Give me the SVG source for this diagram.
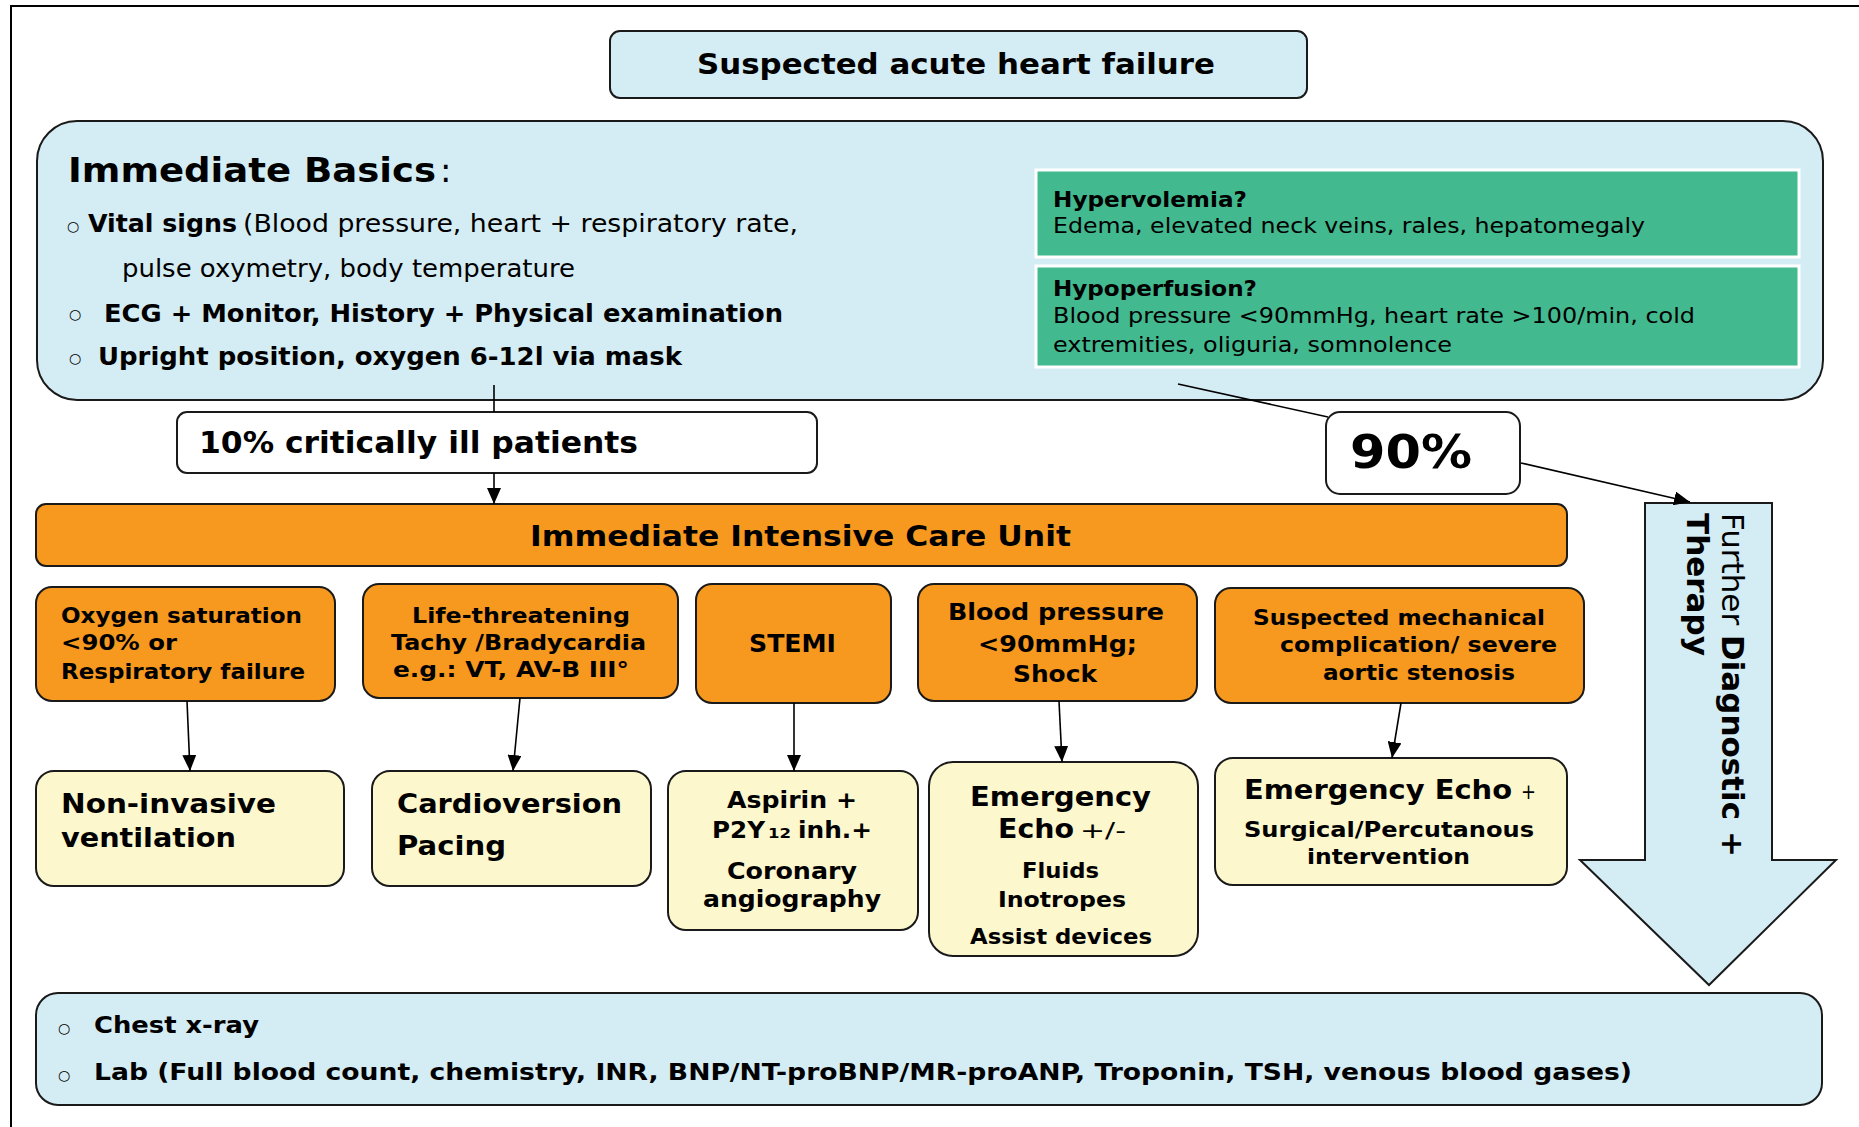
<svg xmlns="http://www.w3.org/2000/svg" width="1859" height="1127" viewBox="0 0 1859 1127">
<defs>
<style>
text{font-family:"DejaVu Sans","Liberation Sans",sans-serif;fill:#000}
.b{font-weight:bold}
.blue{fill:#d4ecf3;stroke:#1a1a1a;stroke-width:2}
.org{fill:#f7981f;stroke:#1a1a1a;stroke-width:2}
.yel{fill:#fcf7cd;stroke:#1a1a1a;stroke-width:2}
.wht{fill:#ffffff;stroke:#1a1a1a;stroke-width:2}
.grn{fill:#43b98f;stroke:#ffffff;stroke-width:3}
.ln{stroke:#000;stroke-width:1.6;fill:none}
.bul{font-size:14px}
</style>
<marker id="ah" markerUnits="userSpaceOnUse" markerWidth="16" markerHeight="14" refX="16" refY="7" orient="auto">
<path d="M0,0 L16,7 L0,14 z" fill="#000"/>
</marker>
</defs>
<rect width="1859" height="1127" fill="#ffffff"/>
<path d="M11,1127 L11,6 L1859,6" fill="none" stroke="#000" stroke-width="2"/>

<g id="title">
<rect class="blue" x="610" y="31" width="697" height="67" rx="10"/>
<text class="b" x="697" y="74" font-size="29" textLength="518" lengthAdjust="spacingAndGlyphs">Suspected acute heart failure</text>
</g>

<g id="basics">
<rect class="blue" x="37" y="121" width="1786" height="279" rx="40"/>
<text class="b" x="68" y="182" font-size="34" textLength="368" lengthAdjust="spacingAndGlyphs">Immediate Basics</text>
<text x="440" y="182" font-size="34">:</text>
<text class="bul" x="67" y="231">○</text>
<text class="b" x="88" y="232" font-size="24" textLength="149" lengthAdjust="spacingAndGlyphs">Vital signs</text>
<text x="243" y="232" font-size="24" textLength="555" lengthAdjust="spacingAndGlyphs">(Blood  pressure, heart + respiratory rate,</text>
<text x="122" y="277" font-size="24" textLength="453" lengthAdjust="spacingAndGlyphs">pulse oxymetry, body temperature</text>
<text class="bul" x="69" y="319">○</text>
<text class="b" x="104" y="322" font-size="24" textLength="679" lengthAdjust="spacingAndGlyphs">ECG + Monitor, History + Physical examination</text>
<text class="bul" x="69" y="363">○</text>
<text class="b" x="98" y="365" font-size="24" textLength="584" lengthAdjust="spacingAndGlyphs">Upright position, oxygen 6-12l via mask</text>
</g>

<g id="hypervolemia">
<rect class="grn" x="1036" y="170" width="763" height="87"/>
<text class="b" x="1053" y="207" font-size="21" textLength="194" lengthAdjust="spacingAndGlyphs">Hypervolemia?</text>
<text x="1053" y="233" font-size="21" textLength="592" lengthAdjust="spacingAndGlyphs">Edema, elevated neck veins, rales, hepatomegaly</text>
</g>

<g id="hypoperfusion">
<rect class="grn" x="1036" y="266" width="763" height="101"/>
<text class="b" x="1053" y="296" font-size="21" textLength="204" lengthAdjust="spacingAndGlyphs">Hypoperfusion?</text>
<text x="1053" y="323" font-size="21" textLength="642" lengthAdjust="spacingAndGlyphs">Blood pressure &lt;90mmHg, heart rate &gt;100/min, cold</text>
<text x="1053" y="352" font-size="21" textLength="399" lengthAdjust="spacingAndGlyphs">extremities, oliguria, somnolence</text>
</g>

<g id="critical">
<rect class="wht" x="177" y="412" width="640" height="61" rx="10"/>
<text class="b" x="199" y="453" font-size="31" textLength="439" lengthAdjust="spacingAndGlyphs">10% critically ill patients</text>
</g>

<g id="ninety">
<rect class="wht" x="1326" y="412" width="194" height="82" rx="14"/>
<text class="b" x="1350" y="468" font-size="46" textLength="122" lengthAdjust="spacingAndGlyphs">90%</text>
</g>

<g id="icu">
<rect class="org" x="36" y="504" width="1531" height="62" rx="10"/>
<text class="b" x="530" y="546" font-size="28" textLength="541" lengthAdjust="spacingAndGlyphs">Immediate Intensive Care Unit</text>
</g>

<g id="further">
<path d="M1645,503 L1772,503 L1772,860 L1836,860 L1709,985 L1580,860 L1645,860 Z" fill="#d4ecf3" stroke="#1a1a1a" stroke-width="2"/>
<text transform="translate(1722,513) rotate(90)" font-size="31"><tspan>Further </tspan><tspan class="b">Diagnostic +</tspan></text>
<text class="b" transform="translate(1687,513) rotate(90)" font-size="31">Therapy</text>
</g>

<g id="oxygen">
<rect class="org" x="36" y="587" width="299" height="114" rx="16"/>
<text class="b" x="61" y="623" font-size="22" textLength="241" lengthAdjust="spacingAndGlyphs">Oxygen saturation</text>
<text class="b" x="61" y="650" font-size="22" textLength="116" lengthAdjust="spacingAndGlyphs">&lt;90% or</text>
<text class="b" x="61" y="679" font-size="22" textLength="244" lengthAdjust="spacingAndGlyphs">Respiratory failure</text>
</g>

<g id="arrhythmia">
<rect class="org" x="363" y="584" width="315" height="114" rx="16"/>
<text class="b" x="412" y="623" font-size="22" textLength="218" lengthAdjust="spacingAndGlyphs">Life-threatening</text>
<text class="b" x="391" y="650" font-size="22" textLength="255" lengthAdjust="spacingAndGlyphs">Tachy /Bradycardia</text>
<text class="b" x="393" y="677" font-size="22" textLength="236" lengthAdjust="spacingAndGlyphs">e.g.: VT, AV-B III°</text>
</g>

<g id="stemi">
<rect class="org" x="696" y="584" width="195" height="119" rx="16"/>
<text class="b" x="749" y="652" font-size="24" textLength="87" lengthAdjust="spacingAndGlyphs">STEMI</text>
</g>

<g id="shock">
<rect class="org" x="918" y="584" width="279" height="117" rx="16"/>
<text class="b" x="948" y="620" font-size="23" textLength="216" lengthAdjust="spacingAndGlyphs">Blood pressure</text>
<text class="b" x="978" y="652" font-size="23" textLength="159" lengthAdjust="spacingAndGlyphs">&lt;90mmHg;</text>
<text class="b" x="1013" y="682" font-size="23" textLength="84" lengthAdjust="spacingAndGlyphs">Shock</text>
</g>

<g id="mechanical">
<rect class="org" x="1215" y="588" width="369" height="115" rx="16"/>
<text class="b" x="1253" y="625" font-size="22" textLength="292" lengthAdjust="spacingAndGlyphs">Suspected mechanical</text>
<text class="b" x="1280" y="652" font-size="22" textLength="277" lengthAdjust="spacingAndGlyphs">complication/ severe</text>
<text class="b" x="1323" y="680" font-size="22" textLength="192" lengthAdjust="spacingAndGlyphs">aortic stenosis</text>
</g>

<g id="niv">
<rect class="yel" x="36" y="771" width="308" height="115" rx="18"/>
<text class="b" x="61" y="813" font-size="26" textLength="215" lengthAdjust="spacingAndGlyphs">Non-invasive</text>
<text class="b" x="61" y="847" font-size="26" textLength="175" lengthAdjust="spacingAndGlyphs">ventilation</text>
</g>

<g id="cardioversion">
<rect class="yel" x="372" y="771" width="279" height="115" rx="18"/>
<text class="b" x="397" y="813" font-size="26" textLength="225" lengthAdjust="spacingAndGlyphs">Cardioversion</text>
<text class="b" x="397" y="855" font-size="26" textLength="109" lengthAdjust="spacingAndGlyphs">Pacing</text>
</g>

<g id="aspirin">
<rect class="yel" x="668" y="771" width="250" height="159" rx="18"/>
<text class="b" x="727" y="808" font-size="23" textLength="130" lengthAdjust="spacingAndGlyphs">Aspirin +</text>
<text class="b" x="712" y="838" font-size="23" textLength="53" lengthAdjust="spacingAndGlyphs">P2Y</text>
<text class="b" x="768" y="838" font-size="14" textLength="23" lengthAdjust="spacingAndGlyphs">12</text>
<text class="b" x="798" y="838" font-size="23" textLength="74" lengthAdjust="spacingAndGlyphs">inh.+</text>
<text class="b" x="727" y="879" font-size="23" textLength="130" lengthAdjust="spacingAndGlyphs">Coronary</text>
<text class="b" x="703" y="907" font-size="23" textLength="178" lengthAdjust="spacingAndGlyphs">angiography</text>
</g>

<g id="echo">
<rect class="yel" x="929" y="762" width="269" height="194" rx="24"/>
<text class="b" x="970" y="806" font-size="26" textLength="181" lengthAdjust="spacingAndGlyphs">Emergency</text>
<text class="b" x="998" y="838" font-size="26" textLength="76" lengthAdjust="spacingAndGlyphs">Echo</text>
<text x="1080" y="838" font-size="22" textLength="46" lengthAdjust="spacingAndGlyphs">+/-</text>
<text class="b" x="1022" y="878" font-size="21" textLength="77" lengthAdjust="spacingAndGlyphs">Fluids</text>
<text class="b" x="998" y="907" font-size="21" textLength="128" lengthAdjust="spacingAndGlyphs">Inotropes</text>
<text class="b" x="970" y="944" font-size="21" textLength="182" lengthAdjust="spacingAndGlyphs">Assist devices</text>
</g>

<g id="surgical">
<rect class="yel" x="1215" y="758" width="352" height="127" rx="18"/>
<text class="b" x="1244" y="799" font-size="26" textLength="268" lengthAdjust="spacingAndGlyphs">Emergency Echo</text>
<text x="1521" y="799" font-size="22" textLength="15" lengthAdjust="spacingAndGlyphs">+</text>
<text class="b" x="1244" y="837" font-size="21" textLength="290" lengthAdjust="spacingAndGlyphs">Surgical/Percutanous</text>
<text class="b" x="1307" y="864" font-size="21" textLength="163" lengthAdjust="spacingAndGlyphs">intervention</text>
</g>

<g id="labs">
<rect class="blue" x="36" y="993" width="1786" height="112" rx="22"/>
<text class="bul" x="58" y="1033">○</text>
<text class="b" x="94" y="1033" font-size="23" textLength="165" lengthAdjust="spacingAndGlyphs">Chest x-ray</text>
<text class="bul" x="58" y="1080">○</text>
<text class="b" x="94" y="1080" font-size="23" textLength="1538" lengthAdjust="spacingAndGlyphs">Lab (Full blood count, chemistry, INR, BNP/NT-proBNP/MR-proANP,  Troponin, TSH, venous blood gases)</text>
</g>

<g id="connectors">
<line class="ln" x1="494" y1="385" x2="494" y2="412"/>
<line class="ln" x1="494" y1="473" x2="494" y2="504" marker-end="url(#ah)"/>
<line class="ln" x1="1178" y1="384" x2="1328" y2="417"/>
<line class="ln" x1="1521" y1="463" x2="1690" y2="502" marker-end="url(#ah)"/>
<line class="ln" x1="187" y1="701" x2="190" y2="771" marker-end="url(#ah)"/>
<line class="ln" x1="520" y1="698" x2="513" y2="771" marker-end="url(#ah)"/>
<line class="ln" x1="794" y1="703" x2="794" y2="771" marker-end="url(#ah)"/>
<line class="ln" x1="1059" y1="701" x2="1062" y2="762" marker-end="url(#ah)"/>
<line class="ln" x1="1401" y1="703" x2="1392" y2="758" marker-end="url(#ah)"/>
</g>
</svg>
